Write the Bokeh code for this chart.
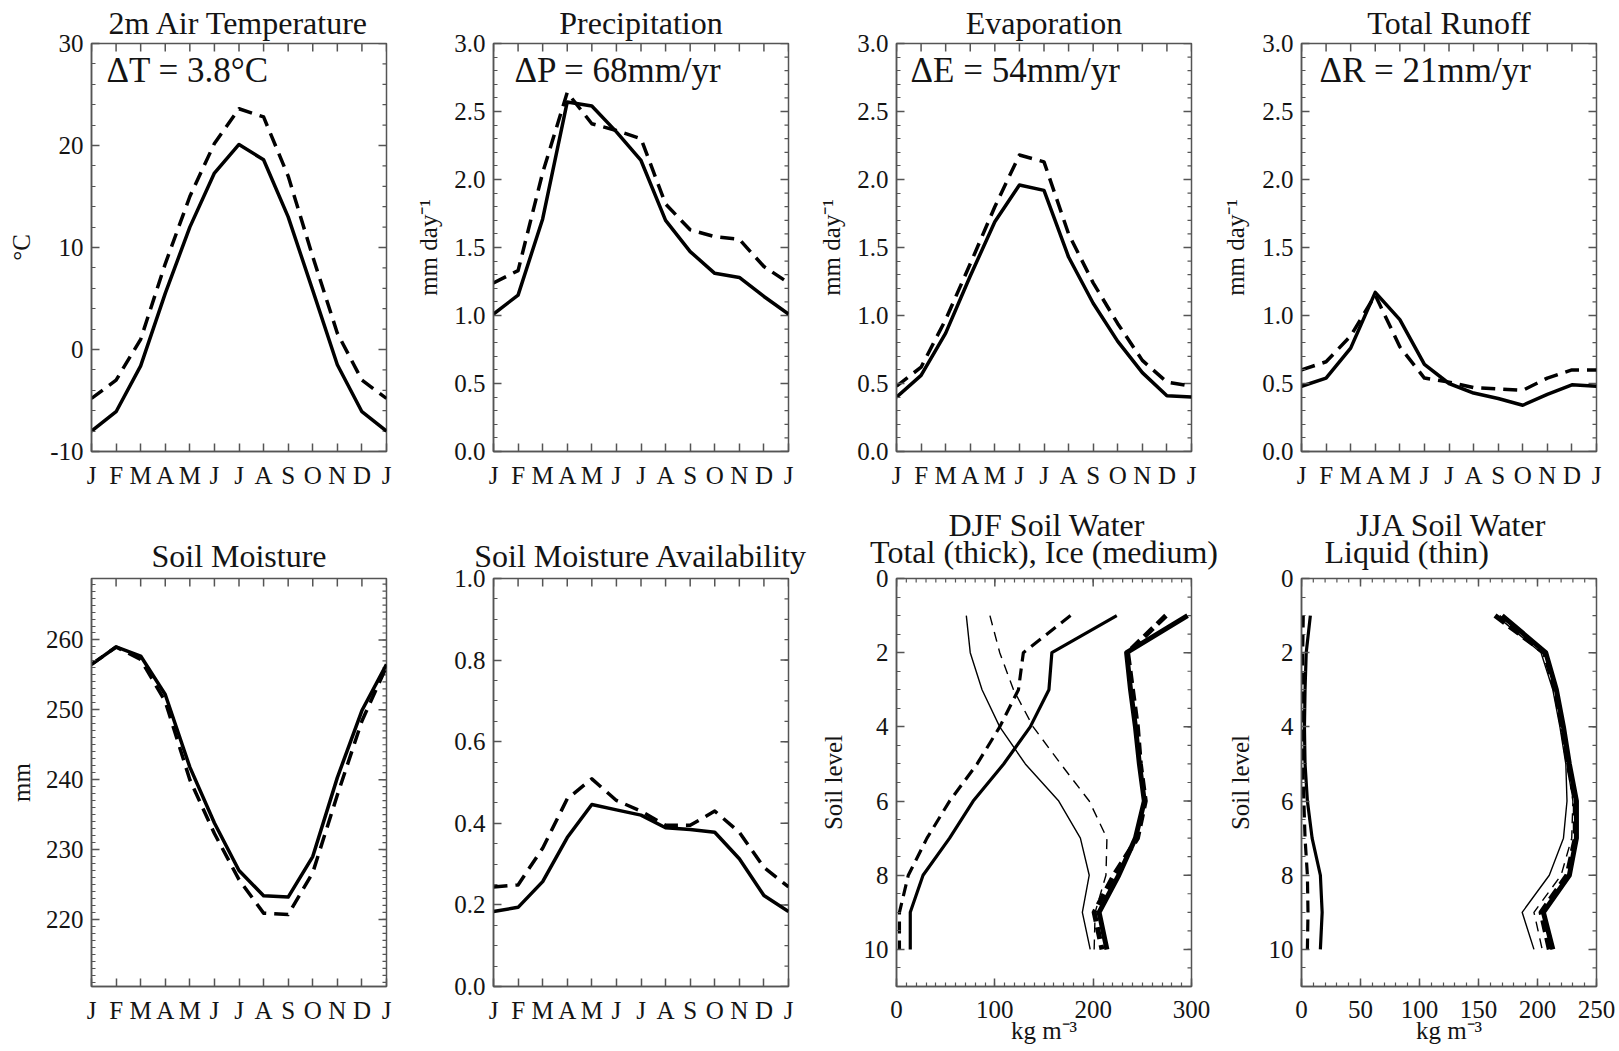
import numpy as np
from bokeh.plotting import figure
from bokeh.models import Range1d, FixedTicker, Label, Title
from bokeh.layouts import gridplot
from bokeh.embed import file_html
from bokeh.resources import INLINE

FONT = "Liberation Serif"
TXT = "#141414"
AXC = "#555555"
NB = "\u00a0"

# ---------------- data ----------------
months = list(range(13))
month_labels = ["J", "F", "M", "A", "M", "J", "J", "A", "S", "O", "N", "D", "J"]

temp_ctrl = [-8.0, -6.1, -1.6, 5.5, 12.0, 17.3, 20.1, 18.6, 13.0, 5.8, -1.5, -6.1, -8.0]
temp_scen = [-4.8, -3.0, 1.0, 8.4, 15.0, 20.2, 23.6, 22.8, 17.0, 9.1, 1.6, -3.0, -4.8]
temp_ticks = [-10, 0, 10, 20, 30]
temp_tick_labels = ["-10", "0", "10", "20", "30"]

flux_ticks = [0.0, 0.5, 1.0, 1.5, 2.0, 2.5, 3.0]
flux_tick_labels = ["0.0", "0.5", "1.0", "1.5", "2.0", "2.5", "3.0"]

precip_ctrl = [1.01, 1.15, 1.71, 2.57, 2.54, 2.35, 2.14, 1.70, 1.47, 1.31, 1.28, 1.14, 1.01]
precip_scen = [1.24, 1.33, 2.05, 2.64, 2.41, 2.36, 2.30, 1.82, 1.63, 1.58, 1.56, 1.36, 1.24]

evap_ctrl = [0.40, 0.56, 0.87, 1.29, 1.69, 1.96, 1.92, 1.43, 1.09, 0.81, 0.58, 0.41, 0.40]
evap_scen = [0.48, 0.62, 0.97, 1.38, 1.80, 2.18, 2.13, 1.60, 1.24, 0.94, 0.67, 0.51, 0.48]

runoff_ctrl = [0.48, 0.54, 0.76, 1.17, 0.97, 0.64, 0.50, 0.43, 0.39, 0.34, 0.42, 0.49, 0.48]
runoff_scen = [0.60, 0.66, 0.85, 1.15, 0.77, 0.54, 0.51, 0.47, 0.46, 0.45, 0.54, 0.60, 0.60]

sm_ctrl = [256.5, 259.0, 257.7, 252.2, 241.8, 233.8, 227.0, 223.4, 223.2, 229.0, 240.3, 249.9, 256.5]
sm_scen = [256.5, 259.0, 257.2, 251.2, 240.0, 232.3, 225.7, 220.9, 220.7, 226.7, 237.8, 248.4, 256.2]
sm_ticks = [220, 230, 240, 250, 260]
sm_tick_labels = ["220", "230", "240", "250", "260"]

sma_ctrl = [0.184, 0.194, 0.257, 0.365, 0.446, 0.433, 0.420, 0.389, 0.385, 0.378, 0.313, 0.223, 0.184]
sma_scen = [0.244, 0.249, 0.339, 0.460, 0.509, 0.456, 0.430, 0.395, 0.395, 0.430, 0.378, 0.292, 0.244]
sma_ticks = [0.0, 0.2, 0.4, 0.6, 0.8, 1.0]
sma_tick_labels = ["0.0", "0.2", "0.4", "0.6", "0.8", "1.0"]

levels = [1, 2, 3, 4, 5, 6, 7, 8, 9, 10]
level_ticks = [0, 2, 4, 6, 8, 10]
level_tick_labels = ["0", "2", "4", "6", "8", "10"]

djf_ticks = [0, 100, 200, 300]
djf_tick_labels = ["0", "100", "200", "300"]
djf_total_ctrl = [296, 234, 238, 243, 247, 252, 243, 226, 206, 214]
djf_total_scen = [274, 235, 240, 245, 248, 253, 245, 221, 201, 209]
djf_ice_ctrl = [224, 158, 155, 136, 109, 78, 54, 27, 14, 14]
djf_ice_scen = [177, 129, 124, 105, 82, 54, 31, 12, 3, 3]
djf_liq_ctrl = [71, 75, 87, 105, 131, 165, 187, 196, 189, 197]
djf_liq_scen = [95, 105, 119, 139, 167, 196, 214, 213, 202, 201]

jja_ticks = [0, 50, 100, 150, 200, 250]
jja_tick_labels = ["0", "50", "100", "150", "200", "250"]
jja_total_ctrl = [170, 207, 216, 222, 227, 233, 233, 227, 205, 213]
jja_total_scen = [164, 206, 215, 221, 226, 232, 232, 225, 203, 210]
jja_ice_ctrl = [7.5, 4, 3, 2.5, 3, 5, 9, 16, 17.5, 16]
jja_ice_scen = [1.5, 1, 1, 1, 1, 2, 3, 5, 5.5, 5]
jja_liq_ctrl = [165, 203, 213, 219, 224, 225, 222, 210, 187, 197]
jja_liq_scen = [168, 205, 214, 220, 225, 230, 229, 220, 197, 204]

# column borders (left, right) so that frames line up with the reference
COL_LEFT = [91, 80, 79, 78]
COL_RIGHT = [26, 27, 28, 29]


# ---------------- helpers ----------------
def minor(lo, hi, step):
    n = int(round((hi - lo) / step))
    return [round(lo + i * step, 4) for i in range(n + 1)]


def style_axis(ax, ticks, minors, labels, standoff):
    ax.ticker = FixedTicker(ticks=list(ticks), minor_ticks=list(minors))
    ax.major_tick_in = 8
    ax.major_tick_out = 0
    ax.minor_tick_in = 4
    ax.minor_tick_out = 0
    ax.axis_line_color = AXC
    ax.axis_line_width = 1.5
    ax.major_tick_line_color = AXC
    ax.major_tick_line_width = 1.5
    ax.minor_tick_line_color = AXC
    ax.minor_tick_line_width = 1.2
    ax.major_label_text_font = FONT
    ax.major_label_text_color = TXT
    ax.major_label_overrides = {t: l for t, l in zip(ticks, labels)}
    ax.major_label_text_font_size = "25px"
    ax.major_label_standoff = standoff
    ax.axis_label_text_font = FONT
    ax.axis_label_text_font_size = "25px"
    ax.axis_label_text_font_style = "normal"
    ax.axis_label_text_color = TXT


def mirror_ticks(p, xr, yr, xt, xminor, yt, yminor):
    # inward ticks on the top and right edges of the frame
    if len(xt):
        p.ray(x=list(xt), y=[yr.end] * len(xt), length=8, length_units="screen",
              angle=-np.pi / 2, line_color=AXC, line_width=1.5)
    if len(xminor):
        p.ray(x=list(xminor), y=[yr.end] * len(xminor), length=4, length_units="screen",
              angle=-np.pi / 2, line_color=AXC, line_width=1.2)
    p.ray(x=[xr.end] * len(yt), y=list(yt), length=8, length_units="screen",
          angle=np.pi, line_color=AXC, line_width=1.5)
    if len(yminor):
        p.ray(x=[xr.end] * len(yminor), y=list(yminor), length=4, length_units="screen",
              angle=np.pi, line_color=AXC, line_width=1.2)


def make_panel(col, xr, yr, xt, xminor, xlabels, yt, yminor, ylabels, top, bottom, xstand=10):
    p = figure(frame_width=295, frame_height=408, x_range=xr, y_range=yr,
               min_border_left=COL_LEFT[col], min_border_right=COL_RIGHT[col],
               min_border_top=top, min_border_bottom=bottom,
               output_backend="svg", toolbar_location=None, title=None)
    p.xgrid.visible = False
    p.ygrid.visible = False
    p.outline_line_color = AXC
    p.outline_line_width = 1.5
    p.background_fill_color = "white"
    p.border_fill_color = "white"
    style_axis(p.xaxis[0], xt, xminor, xlabels, xstand)
    style_axis(p.yaxis[0], yt, yminor, ylabels, 8)
    mirror_ticks(p, xr, yr, xt, xminor, yt, yminor)
    return p


def add_title(p, s, standoff, align="center", offset=0, lh=1.0):
    p.add_layout(Title(text=s, align=align, offset=offset, standoff=standoff,
                       text_font=FONT, text_font_size="32px", text_font_style="normal",
                       text_color=TXT, text_line_height=lh), "above")


def month_panel(col, title, yr, yt, yminor, ylabels, ctrl, scen, ylabel, ylabel_stand,
                annot, annot_off, top, bottom, title_stand):
    xr = Range1d(0, 12)
    p = make_panel(col, xr, yr, months, [], month_labels, yt, yminor, ylabels, top, bottom)
    p.line(months, ctrl, line_color="black", line_width=3.5, line_join="round")
    p.line(months, scen, line_color="black", line_width=3.5, line_dash="14 8", line_join="round")
    add_title(p, title, title_stand)
    if annot:
        p.add_layout(Label(x=xr.start, y=yr.end, x_offset=annot_off, y_offset=-27, text=annot,
                           text_font=FONT, text_font_size="35px", text_color=TXT,
                           text_align="left", text_baseline="middle"))
    if ylabel:
        p.yaxis[0].axis_label = ylabel
        p.yaxis[0].axis_label_standoff = ylabel_stand
    return p


T1, B1 = 43, 42
T2, B2 = 85, 65

p1 = month_panel(0, "2m Air Temperature", Range1d(-10, 30), temp_ticks, minor(-10, 30, 2), temp_tick_labels,
                 temp_ctrl, temp_scen, "°C", 12, "ΔT = 3.8°C", 15, T1, B1, 5)
p2 = month_panel(1, "Precipitation", Range1d(0, 3), flux_ticks, minor(0, 3, 0.1), flux_tick_labels,
                 precip_ctrl, precip_scen, "mm day⁻¹", 9, "ΔP = 68mm/yr", 21, T1, B1, 5)
p3 = month_panel(2, "Evaporation", Range1d(0, 3), flux_ticks, minor(0, 3, 0.1), flux_tick_labels,
                 evap_ctrl, evap_scen, "mm day⁻¹", 9, "ΔE = 54mm/yr", 14, T1, B1, 5)
p4 = month_panel(3, "Total Runoff", Range1d(0, 3), flux_ticks, minor(0, 3, 0.1), flux_tick_labels,
                 runoff_ctrl, runoff_scen, "mm day⁻¹", 10, "ΔR = 21mm/yr", 18, T1, B1, 5)
p5 = month_panel(0, "Soil Moisture", Range1d(210.4, 268.8), sm_ticks, minor(211, 268, 1), sm_tick_labels,
                 sm_ctrl, sm_scen, "mm", 8, None, 0, T2, B2, 10)
p6 = month_panel(1, "Soil Moisture Availability", Range1d(0, 1), sma_ticks, minor(0, 1, 0.05), sma_tick_labels,
                 sma_ctrl, sma_scen, None, 0, None, 0, T2, B2, 10)


def soil_panel(col, xr, xt, xminor, xlabels, total, ice, liq, ylabel_stand):
    yr = Range1d(11, 0)
    p = make_panel(col, xr, yr, xt, xminor, xlabels, level_ticks, minor(0, 11, 0.5), level_tick_labels,
                   T2, B2, xstand=14)
    tc, ts = total
    ic, isc = ice
    lc, ls = liq
    p.line(tc, levels, line_color="black", line_width=5, line_join="round")
    p.line(ts, levels, line_color="black", line_width=5, line_dash="12 6", line_join="round")
    p.line(ic, levels, line_color="black", line_width=3.2, line_join="round")
    p.line(isc, levels, line_color="black", line_width=3.2, line_dash="12 7", line_join="round")
    p.line(lc, levels, line_color="black", line_width=1.4, line_join="round")
    p.line(ls, levels, line_color="black", line_width=1.4, line_dash="10 7", line_join="round")
    p.yaxis[0].axis_label = "Soil level"
    p.yaxis[0].axis_label_standoff = ylabel_stand
    p.xaxis[0].axis_label = "kg m⁻³"
    p.xaxis[0].axis_label_standoff = -4
    return p


p7 = soil_panel(2, Range1d(0, 300), djf_ticks, minor(0, 300, 10), djf_tick_labels,
                (djf_total_ctrl, djf_total_scen), (djf_ice_ctrl, djf_ice_scen),
                (djf_liq_ctrl, djf_liq_scen), 14)
add_title(p7, NB * 9 + "\u2009DJF Soil Water\nTotal (thick), Ice (medium)", 18, lh=0.75)

p8 = soil_panel(3, Range1d(0, 250), jja_ticks, minor(0, 250, 10), jja_tick_labels,
                (jja_total_ctrl, jja_total_scen), (jja_ice_ctrl, jja_ice_scen),
                (jja_liq_ctrl, jja_liq_scen), 12)
add_title(p8, NB * 4 + "JJA Soil Water\nLiquid (thin)", 18, align="left", offset=23, lh=0.75)

grid = gridplot([[p1, p2, p3, p4], [p5, p6, p7, p8]], toolbar_location=None)

open("out.html", "w").write(file_html(grid, INLINE))
